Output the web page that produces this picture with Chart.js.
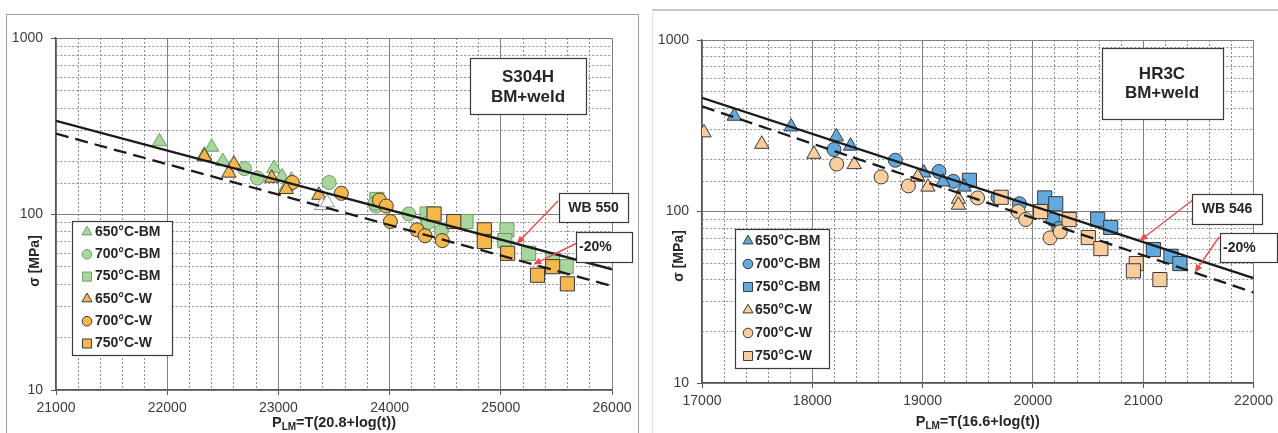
<!DOCTYPE html>
<html>
<head>
<meta charset="utf-8">
<script src="https://cdn.jsdelivr.net/npm/chart.js@4.4.1/dist/chart.umd.min.js"></script>
<style>
  body { margin: 0; background: #fff; width: 1278px; height: 433px; overflow: hidden; position: relative; }
  #f1 { position: absolute; left: 6px; top: 14px; width: 631px; height: 440px; border: 1px solid #a0a0a0; }
  #f2 { position: absolute; left: 652px; top: 9px; width: 640px; height: 440px; border-top: 2px solid #c6c6c6; border-left: 1px solid #e0e0e0; }
  canvas { position: absolute; top: 0; }
  #c1 { left: 0; }
  #c2 { left: 645px; }
</style>
</head>
<body>
<div id="f1"></div>
<div id="f2"></div>
<canvas id="c1" width="645" height="433"></canvas>
<canvas id="c2" width="633" height="433"></canvas>
<script>
// ---- S304H (left panel) ----
var s304hBM650 = [[21930,258],[22400,240],[22334,217],[22500,199],[22960,182],[23033,163],[23117,156],[23070,143]];
var s304hBM700 = [[22695,181],[22812,160],[23456,151],[23878,111],[23868,115],[24172,100],[24349,89.5],[24466,80.5]];
var s304hBM750 = [[23886,121],[24338,100],[24687,90.6],[25055,81.3],[25036,70.6],[25250,59.8],[25466,54.8],[25588,50.2]];
var s304hW650 = [[22334,212],[22600,192],[22555,171],[22940,160],[23070,138],[23364,128]];
var s304hW700 = [[23125,151],[23566,131],[23908,120],[23970,111],[24007,90.6],[24246,81.3],[24319,75.2],[24474,70.6]];
var s304hW750 = [[24400,100],[24577,90.6],[24852,81.3],[24852,69.8],[25062,59.8],[25466,50.2],[25330,44.9],[25599,40.1]];
var s304hOpen = [[23390,112],[23440,116]];
var s304hFit = [[21000,338],[26000,48.5]];
var s304hFit20 = [[21000,286],[26000,39]];

// ---- HR3C (right panel) ----
var hr3cBM650 = [[17292,360],[17808,312],[18218,273],[18347,241],[19011,168],[19184,149],[19376,139]];
var hr3cBM700 = [[18196,230],[18753,199],[19148,171],[19277,150],[19683,121],[19878,111],[20181,89.8],[20236,79.6]];
var hr3cBM750 = [[19424,152],[20107,120],[20207,111],[20587,90.2],[20705,80.7],[21092,60.0],[21251,54.8],[21332,49.7]];
var hr3cW650 = [[17018,288],[17542,247],[18015,216],[18380,188],[18956,159],[19048,139],[19325,118],[19325,109]];
var hr3cW700 = [[18221,189],[18624,159],[18871,141],[19498,120],[19867,100],[19934,89.8],[20155,70.2],[20247,76.1]];
var hr3cW750 = [[19712,121],[20070,100],[20328,89.8],[20502,70.5],[20616,60.8],[20937,49.7],[20911,45.1],[21151,40.1]];
var hr3cFit = [[17000,460],[22000,40.9]];
var hr3cFit20 = [[17000,410],[22000,33.7]];

var legendLabels = ['650°C-BM', '700°C-BM', '750°C-BM', '650°C-W', '700°C-W', '750°C-W'];
var yMajor = [10, 100, 1000];

var FONT = '"Liberation Sans", Arial, sans-serif';
var shapes = ['triangle', 'circle', 'rect', 'triangle', 'circle', 'rect'];
var radii = [8.3, 7, 10, 8.3, 7, 10];

function pts(a) { return a.map(function (p) { return {x: p[0], y: p[1]}; }); }

function markers(label, data, i, fill, stroke) {
  return {
    label: label, data: pts(data), showLine: false,
    pointStyle: shapes[i], pointRadius: radii[i], pointHoverRadius: radii[i],
    backgroundColor: fill, borderColor: stroke, borderWidth: 1,
    order: i < 3 ? 3 : 2
  };
}

function fitLine(data, dash) {
  return {
    label: '', data: pts(data), showLine: true, pointRadius: 0,
    borderColor: '#1b1b1b', borderWidth: 2.3, borderDash: dash, fill: false, order: 0
  };
}

// value on a fit line (straight in log y)
function fitAt(line, x) {
  var t = (x - line[0][0]) / (line[1][0] - line[0][0]);
  var l = Math.log10(line[0][1]) + t * (Math.log10(line[1][1]) - Math.log10(line[0][1]));
  return Math.pow(10, l);
}

function box(ctx, b) {
  ctx.fillStyle = '#fff';
  ctx.fillRect(b.x, b.y, b.w, b.h);
  ctx.strokeStyle = '#3a3a3a';
  ctx.lineWidth = 1.2;
  ctx.strokeRect(b.x + 0.5, b.y + 0.5, b.w, b.h);
}

function arrow(ctx, x1, y1, x2, y2) {
  var a = Math.atan2(y2 - y1, x2 - x1);
  ctx.strokeStyle = '#ee4b4b';
  ctx.fillStyle = '#ee4b4b';
  ctx.lineWidth = 1.4;
  ctx.beginPath();
  ctx.moveTo(x1, y1);
  ctx.lineTo(x2 - 6 * Math.cos(a), y2 - 6 * Math.sin(a));
  ctx.stroke();
  ctx.beginPath();
  ctx.moveTo(x2, y2);
  ctx.lineTo(x2 - 8 * Math.cos(a) + 3.5 * Math.sin(a), y2 - 8 * Math.sin(a) - 3.5 * Math.cos(a));
  ctx.lineTo(x2 - 8 * Math.cos(a) - 3.5 * Math.sin(a), y2 - 8 * Math.sin(a) + 3.5 * Math.cos(a));
  ctx.closePath();
  ctx.fill();
}

function makeDecor(cfg) {
  return {
    id: 'decor',
    afterDraw: function (chart) {
      var ctx = chart.ctx, xs = chart.scales.x, ys = chart.scales.y;
      ctx.save();
      ctx.fillStyle = '#262626';
      ctx.textBaseline = 'middle';

      // y title
      ctx.save();
      ctx.translate(cfg.yTitle[0], cfg.yTitle[1]);
      ctx.rotate(-Math.PI / 2);
      ctx.textAlign = 'center';
      ctx.font = 'bold 14px ' + FONT;
      ctx.fillText('σ [MPa]', 0, 0);
      ctx.restore();

      // x title with subscript
      var big = 'bold 14.5px ' + FONT, small = 'bold 10px ' + FONT;
      var p = cfg.xTitle;
      ctx.font = big;
      var w1 = ctx.measureText(p[0]).width, w3 = ctx.measureText(p[2]).width;
      ctx.font = small;
      var w2 = ctx.measureText(p[1]).width;
      var x = (xs.left + xs.right) / 2 - (w1 + w2 + w3) / 2, y = cfg.xTitleY;
      ctx.textAlign = 'left';
      ctx.font = big; ctx.fillText(p[0], x, y); x += w1;
      ctx.font = small; ctx.fillText(p[1], x, y + 4); x += w2;
      ctx.font = big; ctx.fillText(p[2], x, y);

      // legend
      var L = cfg.legend;
      box(ctx, L);
      chart.data.datasets.forEach(function (ds) {
        if (!ds.label) return;
        var k = legendLabels.indexOf(ds.label);
        var ry = L.row0 + k * L.gap;
        ctx.fillStyle = ds.backgroundColor;
        ctx.strokeStyle = ds.borderColor;
        ctx.lineWidth = 1;
        Chart.helpers.drawPoint(ctx, {pointStyle: ds.pointStyle, radius: ds.pointStyle === 'rect' ? 6.4 : (ds.pointStyle === 'circle' ? 4.8 : 5.8), rotation: 0, borderWidth: 1}, L.mx, ry);
        ctx.fillStyle = '#262626';
        ctx.font = 'bold 14px ' + FONT;
        ctx.textAlign = 'left';
        ctx.fillText(ds.label, L.tx, ry);
      });

      // title box
      var T = cfg.title;
      box(ctx, T);
      ctx.fillStyle = '#262626';
      ctx.font = 'bold 17px ' + FONT;
      ctx.textAlign = 'center';
      T.lines.forEach(function (s, i) { ctx.fillText(s, T.cx, T.ly[i]); });

      // notes with arrows
      cfg.notes.forEach(function (n) {
        var tx = xs.getPixelForValue(n.at);
        var ty = ys.getPixelForValue(fitAt(n.line, n.at));
        arrow(ctx, n.from[0], n.from[1], tx, ty);
        box(ctx, n);
        ctx.fillStyle = '#262626';
        ctx.font = 'bold 14px ' + FONT;
        ctx.textAlign = n.align;
        ctx.fillText(n.text, n.align === 'center' ? n.x + n.w / 2 : n.x + 3, n.y + n.h / 2 + 0.5);
      });
      ctx.restore();
    }
  };
}

function makeChart(id, sets, xmin, xmax, pad, yWidth, xHeight, cfg) {
  return new Chart(document.getElementById(id), {
    type: 'scatter',
    data: {datasets: sets},
    options: {
      responsive: false,
      animation: false,
      layout: {padding: pad},
      plugins: {legend: {display: false}, tooltip: {enabled: false}},
      scales: {
        x: {
          type: 'linear', min: xmin, max: xmax,
          afterFit: function (s) { s.height = xHeight; },
          ticks: {
            stepSize: 200, autoSkip: false, maxRotation: 0, maxTicksLimit: 100, padding: 5,
            color: '#3c3c3c', font: {family: FONT, size: 14},
            callback: function (v) { return v % 1000 === 0 ? String(v) : ''; }
          },
          grid: {
            color: function (c) { return c.tick && c.tick.value % 1000 === 0 ? '#808080' : '#8e8e8e'; },
            lineWidth: 1,
            tickLength: 5,
            tickColor: function (c) { return c.tick && c.tick.value % 1000 === 0 ? '#555' : 'rgba(0,0,0,0)'; }
          },
          border: {
            color: '#555', width: 1.3,
            dash: function (c) { return c.tick && c.tick.value % 1000 !== 0 ? [2, 2] : []; }
          }
        },
        y: {
          type: 'logarithmic', min: 10, max: 1000,
          afterFit: function (s) { s.width = yWidth; },
          ticks: {
            autoSkip: false, padding: 8,
            color: '#3c3c3c', font: {family: FONT, size: 14},
            callback: function (v) { return yMajor.indexOf(v) >= 0 ? String(v) : ''; }
          },
          grid: {
            color: function (c) { return c.tick && yMajor.indexOf(c.tick.value) >= 0 ? '#808080' : '#8e8e8e'; },
            lineWidth: 1,
            tickLength: 5,
            tickColor: function (c) { return c.tick && yMajor.indexOf(c.tick.value) >= 0 ? '#555' : 'rgba(0,0,0,0)'; }
          },
          border: {
            color: '#555', width: 1.3,
            dash: function (c) { return c.tick && yMajor.indexOf(c.tick.value) < 0 ? [2, 2] : []; }
          }
        }
      }
    },
    plugins: [makeDecor(cfg)]
  });
}

var green = '#a8d69c', greenEdge = '#6f9f66', orange = '#f7b84b', dark = '#3a3a3a';
var blue = '#62a9de', peach = '#f9cd9d';

makeChart('c1', [
  fitLine(s304hFit, []),
  fitLine(s304hFit20, [13, 7]),
  markers(legendLabels[0], s304hBM650, 0, green, greenEdge),
  markers(legendLabels[1], s304hBM700, 1, green, greenEdge),
  markers(legendLabels[2], s304hBM750, 2, green, greenEdge),
  markers(legendLabels[3], s304hW650, 3, orange, dark),
  markers(legendLabels[4], s304hW700, 4, orange, dark),
  markers(legendLabels[5], s304hW750, 5, orange, dark),
  Object.assign(markers('', s304hOpen, 0, '#ffffff', '#9a9a9a'), {order: 1})
], 21000, 26000, {left: 0, top: 38, right: 33, bottom: 0}, 56, 43, {
  yTitle: [35.5, 261],
  xTitle: ['P', 'LM', '=T(20.8+log(t))'],
  xTitleY: 423,
  legend: {x: 72, y: 221, w: 100, h: 134, row0: 232, gap: 22.3, mx: 87, tx: 95},
  title: {x: 470, y: 58, w: 116, h: 56, cx: 528, ly: [77, 97], lines: ['S304H', 'BM+weld']},
  notes: [
    {x: 559, y: 193, w: 69, h: 29, text: 'WB 550', align: 'center', from: [558, 201], line: s304hFit, at: 25143},
    {x: 576, y: 232, w: 56, h: 30, text: '-20%', align: 'left', from: [577, 243], line: s304hFit20, at: 25292}
  ]
});

makeChart('c2', [
  fitLine(hr3cFit, []),
  fitLine(hr3cFit20, [13, 7]),
  markers(legendLabels[0], hr3cBM650, 0, blue, dark),
  markers(legendLabels[1], hr3cBM700, 1, blue, dark),
  markers(legendLabels[2], hr3cBM750, 2, blue, dark),
  markers(legendLabels[3], hr3cW650, 3, peach, dark),
  markers(legendLabels[4], hr3cW700, 4, peach, dark),
  markers(legendLabels[5], hr3cW750, 5, peach, dark)
], 17000, 22000, {left: 0, top: 40, right: 24, bottom: 0}, 57, 50, {
  yTitle: [34.5, 256],
  xTitle: ['P', 'LM', '=T(16.6+log(t))'],
  xTitleY: 422,
  legend: {x: 90, y: 229, w: 94, h: 139, row0: 241, gap: 23, mx: 103, tx: 110},
  title: {x: 457, y: 48, w: 121, h: 71, cx: 517, ly: [74, 93], lines: ['HR3C', 'BM+weld']},
  notes: [
    {x: 547, y: 194, w: 70, h: 30, text: 'WB 546', align: 'center', from: [549, 199], line: hr3cFit, at: 20967},
    {x: 575, y: 233, w: 57, h: 29, text: '-20%', align: 'left', from: [574, 237], line: hr3cFit20, at: 21466}
  ]
});
</script>
</body>
</html>
